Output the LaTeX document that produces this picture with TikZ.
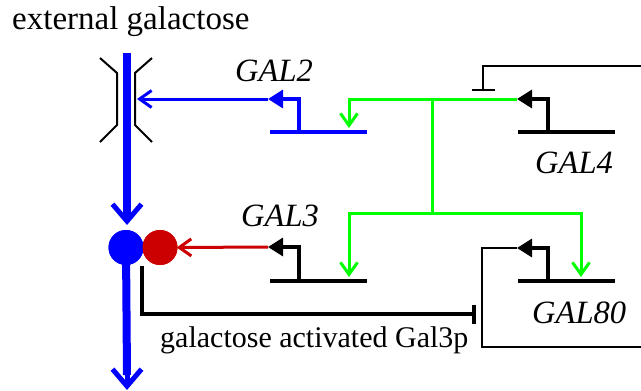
\documentclass[tikz,border=0pt]{standalone}
\usepackage{fontspec}
\setmainfont{Liberation Serif}
\usetikzlibrary{arrows.meta}
\definecolor{gblue}{RGB}{0,0,255}
\definecolor{ggreen}{RGB}{0,255,0}
\definecolor{gred}{RGB}{204,0,0}
\begin{document}
\begin{tikzpicture}[x=1pt,y=-1pt,
  lbl/.style={inner sep=0pt, anchor=base west, font=\fontsize{30}{36}\selectfont},
  genelbl/.style={inner sep=0pt, anchor=base west, font=\fontsize{32.5}{38}\selectfont\itshape},
  gene/.style={line width=3.3pt},
  prom/.style={line width=3.3pt, -{Triangle[length=15pt,width=18pt]}},
  openarr/.style={-{Straight Barb[length=12pt,width=17pt]}},
  bigarr/.style={-{Straight Barb[length=17pt,width=29pt,line width=5pt]}},
  circ/.style={circle, inner sep=0pt, minimum size=35pt}]
\useasboundingbox (0,0) rectangle (641,391);

% texts
\node[lbl, font=\fontsize{33}{38}\selectfont] (ext) at (12,29) {external galactose};
\node[lbl] (act) at (160,347) {galactose activated Gal3p};
\node[genelbl] (g2) at (235,81) {GAL2};
\node[genelbl] (g3) at (241,226) {GAL3};
\node[genelbl] (g4) at (535,173) {GAL4};
\node[genelbl] (g80) at (532,323) {GAL80};

% key coordinates
\coordinate (top) at (127,53);
\coordinate (bot) at (127,390);
\coordinate (g2s) at (299,132);
\coordinate (g2t) at (268,99);
\coordinate (tr) at (137,99);
\coordinate (g3s) at (299,281);
\coordinate (g3t) at (268,247);
\coordinate (g4s) at (548,132);
\coordinate (g4t) at (517,99);
\coordinate (g80s) at (548,281);
\coordinate (g80t) at (517,248);

% circles
\node[circ, fill=gblue] (bc) at (126,247.5) {};
\node[circ, fill=gred] (rc) at (160,247.5) {};

% transporter
\draw[line width=2pt] (100,58) -- (117,73) -- (117,125) -- (100,142);
\draw[line width=2pt] (152,58) -- (135,73) -- (135,125) -- (152,142);

% main galactose flow
\draw[gblue, line width=8pt] (top) -- (127,215);
\draw[gblue, line width=8pt] (bc.center) -- (127,375);
\draw[gblue, line width=5pt, bigarr] (127,200) -- (127,225);
\draw[gblue, line width=5pt, bigarr] (127,365) -- (bot);
\node[circ, fill=gblue] at (bc) {};
\node[circ, fill=gred] at (rc) {};

% genes
\draw[gblue, gene] (270,132) -- (367,132);
\draw[gene] (270,281) -- (367,281);
\draw[gene] (518,132) -- (615,132);
\draw[gene] (518,281) -- (615,281);

% GAL2
\draw[gblue, prom] (g2s) -- (299,99) -- (g2t);
\draw[gblue, line width=3pt, openarr] (g2t) -- (tr);

% GAL3
\draw[prom] (g3s) -- (299,247) -- (g3t);
\draw[gred, line width=3pt, openarr, shorten >=-1pt] (g3t) -- (rc.east);

% GAL4
\draw[prom] (g4s) -- (548,99) -- (g4t);

% GAL80
\draw[prom] (g80s) -- (548,248) -- (g80t);
\draw[line width=2.2pt] (g80t) -- (482,248) -- (482,347) -- (641,347);
\draw[line width=2.2pt, -{Bar[width=23pt,line width=2.2pt]}] (641,66) -- (483,66) -- (483,91);

% Gal4 activation (green)
\draw[ggreen, line width=3pt, openarr] (g4t) -- (349,99) -- (349,128);
\draw[ggreen, line width=3pt] (432,99) -- (432,213);
\draw[ggreen, line width=3pt, openarr] (432,213) -- (349,213) -- (349,277);
\draw[ggreen, line width=3pt, openarr] (432,213) -- (581,213) -- (581,277);

% Gal3p inhibition of Gal80p
\draw[line width=4pt, -{Bar[width=19pt,line width=4pt]}] (142,266) -- (142,314) -- (476,314);
\end{tikzpicture}
\end{document}
